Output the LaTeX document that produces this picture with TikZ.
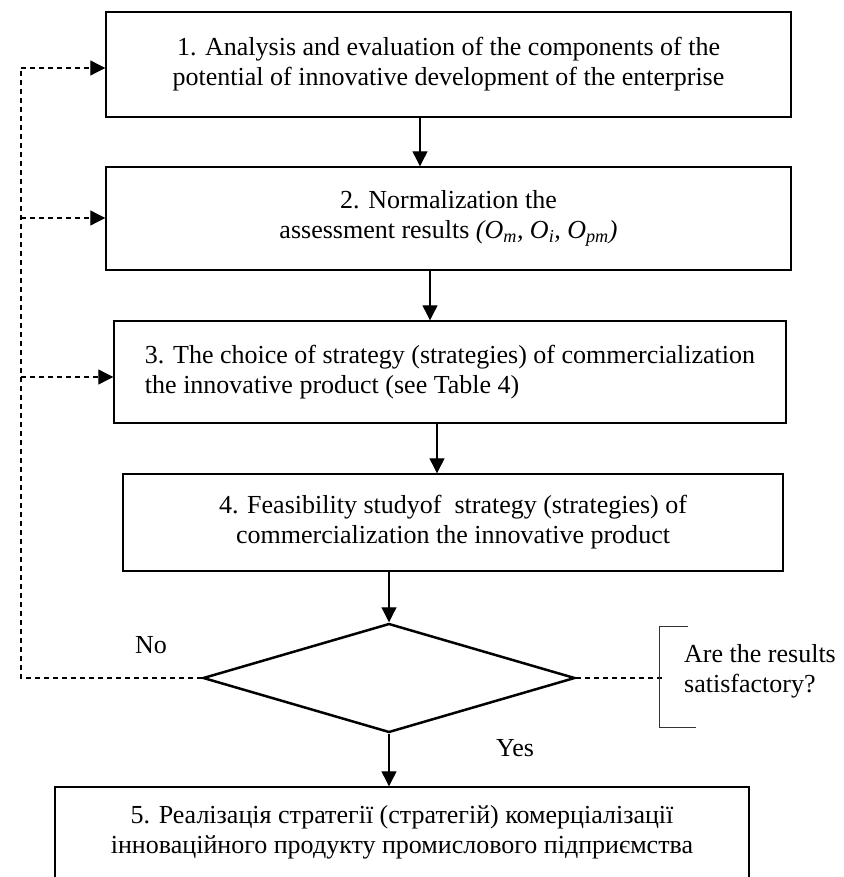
\documentclass[tikz,border=0pt]{standalone}
\usepackage{fontspec}
\setmainfont{Liberation Serif}
\usetikzlibrary{arrows.meta,shapes.geometric}
\begin{document}
\begin{tikzpicture}[x=1pt,y=-1pt,
  font=\fontsize{26}{30}\selectfont,
  stepbox/.style={draw, line width=1.4pt, inner sep=0pt, align=center},
  decision/.style={draw, shape=diamond, line width=2.5pt, inner sep=0pt,
    aspect=3.41, minimum width=372pt, minimum height=109pt},
  flow/.style={-{Triangle[length=15pt,width=15pt]}, line width=1.2pt},
  back/.style={dash pattern=on 5pt off 4pt, line width=1.1pt},
  backflow/.style={back, -{Triangle[length=15pt,width=15pt]}},
  lbl/.style={inner sep=0pt}
  ]
\useasboundingbox (0,0) rectangle (843,877);

% process steps
\node[stepbox, minimum width=685pt, minimum height=105pt] (s1) at (448.5,64.5)
  {1. Analysis and evaluation of the components of the\\
   potential of innovative development of the enterprise};
\node[stepbox, minimum width=685pt, minimum height=103pt] (s2) at (448.5,218.5)
  {2. Normalization the\\
   assessment results \textit{(O\textsubscript{m}, O\textsubscript{i}, O\textsubscript{pm})}};
\node[stepbox, minimum width=672pt, minimum height=102pt, align=left] (s3) at (450,372)
  {3. The choice of strategy (strategies) of commercialization\\
   the innovative product (see Table 4)};
\node[stepbox, minimum width=660pt, minimum height=97pt] (s4) at (453,522.5)
  {4. Feasibility studyof\ \ strategy (strategies) of\\
   commercialization the innovative product};
\node[decision] (d) at (389,678) {};
\node[stepbox, minimum width=694pt, minimum height=97pt] (s5) at (402,835.5) {};
\node[lbl, align=center] (s5t) at (402,832)
  {5. Реалізація стратегії (стратегій) комерціалізації\\
   інноваційного продукту промислового підприємства};

% main flow
\coordinate (c1) at (420,0);
\coordinate (c2) at (430,0);
\coordinate (c3) at (437,0);
\draw[flow] (c1 |- s1.south) -- (c1 |- s2.north);
\draw[flow] (c2 |- s2.south) -- (c2 |- s3.north);
\draw[flow] (c3 |- s3.south) -- (c3 |- s4.north);
\draw[flow] (d.north |- s4.south) -- (d.north);
\draw[flow] (d.south) -- (d.south |- s5.north);

% return loop for an unsatisfactory result
\coordinate (lb) at (21,678);
\coordinate (l1) at (21,68);
\coordinate (l2) at (21,218);
\coordinate (l3) at (21,377);
\draw[back] (d.west) -- (lb) -- (l1);
\draw[backflow] (l1) -- (l1 -| s1.west);
\draw[backflow] (l2) -- (l2 -| s2.west);
\draw[backflow] (l3) -- (l3 -| s3.west);

% question callout
\coordinate (qe) at (664,678);
\draw[back] (d.east) -- (qe);
\coordinate (bt) at (659,626);
\coordinate (bb) at (659,727);
\coordinate (btr) at (688,626);
\coordinate (bbr) at (696,727);
\draw[line width=1pt, draw=black!80] (btr) -- (bt) -- (bb) -- (bbr);
\node[lbl, anchor=west, align=left] (q) at (684,671)
  {Are the results\\satisfactory?};

% branch labels
\node[lbl] (no) at (151,645) {No};
\node[lbl] (yes) at (515,748) {Yes};
\end{tikzpicture}
\end{document}
